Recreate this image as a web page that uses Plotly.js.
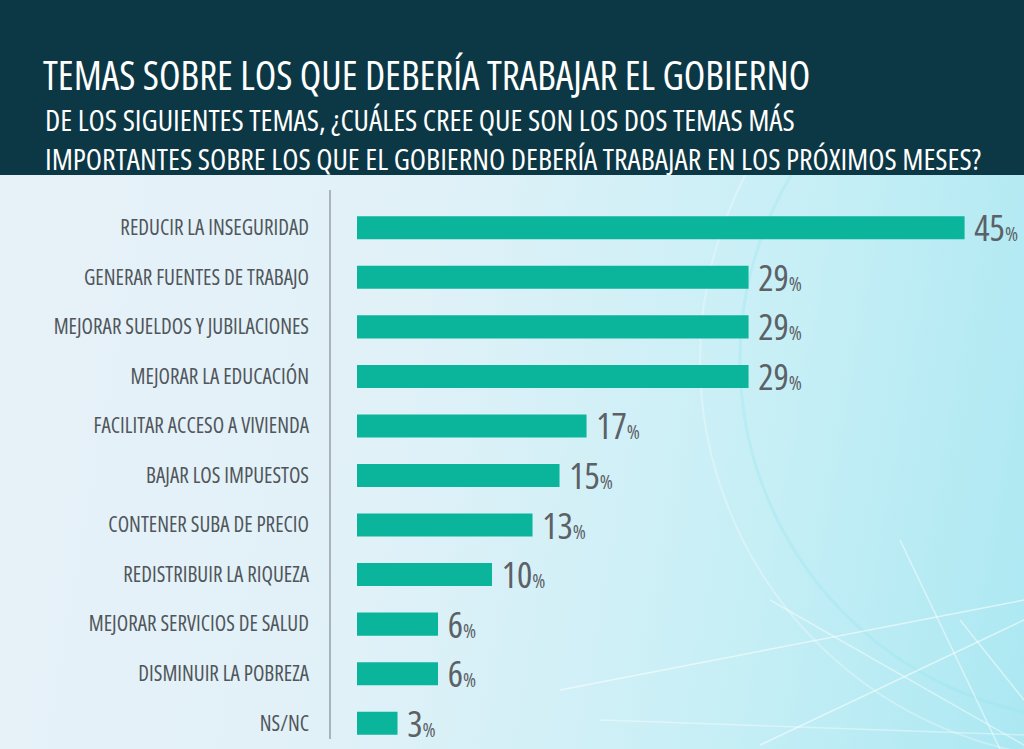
<!DOCTYPE html>
<html>
<head>
<meta charset="utf-8">
<script src="https://cdn.plot.ly/plotly-3.0.1.min.js"></script>
<style>
html,body{margin:0;padding:0;}
#wrap{width:1024px;height:749px;background:linear-gradient(100deg,#e8f1f8 0%,#e1f1f8 40%,#c8eff6 72%,#ace8f2 100%);}
#chart{width:1024px;height:749px;}
svg text{font-stretch:75% !important;}
</style>
</head>
<body>
<div id="wrap"><div id="chart"></div></div>
<script>
const categories = [
  "REDUCIR LA INSEGURIDAD",
  "GENERAR FUENTES DE TRABAJO",
  "MEJORAR SUELDOS Y JUBILACIONES",
  "MEJORAR LA EDUCACIÓN",
  "FACILITAR ACCESO A VIVIENDA",
  "BAJAR LOS IMPUESTOS",
  "CONTENER SUBA DE PRECIO",
  "REDISTRIBUIR LA RIQUEZA",
  "MEJORAR SERVICIOS DE SALUD",
  "DISMINUIR LA POBREZA",
  "NS/NC"
];
const values = [45, 29, 29, 29, 17, 15, 13, 10, 6, 6, 3];

const titleText = "TEMAS SOBRE LOS QUE DEBERÍA TRABAJAR EL GOBIERNO";
const subtitleLine1 = "DE LOS SIGUIENTES TEMAS, ¿CUÁLES CREE QUE SON LOS DOS TEMAS MÁS";
const subtitleLine2 = "IMPORTANTES SOBRE LOS QUE EL GOBIERNO DEBERÍA TRABAJAR EN LOS PRÓXIMOS MESES?";

const FONT = '"Open Sans", "Roboto Condensed", sans-serif';

const trace = {
  type: 'bar',
  orientation: 'h',
  y: categories,
  x: values,
  marker: {color: '#0bb59b'},
  texttemplate: ' %{x}<span style="font-size:20px">%</span>',
  textposition: 'outside',
  constraintext: 'none',
  cliponaxis: false,
  textfont: {family: FONT, size: 36, color: '#5b6166'},
  hoverinfo: 'skip'
};

// helpers: pixel -> paper coords for decoration shapes
const PX = p => (p - 330) / 694;
const PY = p => (748 - p) / 545;
const deco = (x0, y0, x1, y1, op) => ({
  type: 'line', xref: 'paper', yref: 'paper', layer: 'below',
  x0: PX(x0), y0: PY(y0), x1: PX(x1), y1: PY(y1),
  line: {color: 'rgba(255,255,255,' + op + ')', width: 1.5}
});

const layout = {
  width: 1024, height: 749,
  paper_bgcolor: 'rgba(0,0,0,0)',
  plot_bgcolor: 'rgba(0,0,0,0)',
  margin: {l: 330, r: 0, t: 203, b: 1},
  bargap: 0.535,
  showlegend: false,
  font: {family: FONT},
  title: {
    text: titleText,
    font: {family: FONT, size: 39.5, color: '#ffffff'},
    x: 43/1024, xref: 'container', xanchor: 'left',
    y: 1 - 76/749, yref: 'container', yanchor: 'middle'
  },
  xaxis: {
    range: [-2, 49.4], visible: false, fixedrange: true
  },
  yaxis: {
    autorange: 'reversed',
    showline: false, showgrid: false, zeroline: false,
    ticks: '', ticklabelstandoff: 20,
    tickfont: {family: FONT, size: 21, color: '#50565b'},
    fixedrange: true
  },
  shapes: [
    {type: 'circle', xref: 'paper', yref: 'paper', layer: 'below',
     x0: PX(700), x1: PX(1500), y0: PY(760), y1: PY(-40),
     line: {color: 'rgba(255,255,255,0.3)', width: 2}},
    {type: 'circle', xref: 'paper', yref: 'paper', layer: 'below',
     x0: PX(740), x1: PX(1460), y0: PY(720), y1: PY(0),
     line: {color: 'rgba(150,230,240,0.3)', width: 3}},
    deco(560, 690, 1024, 600, 0.55),
    deco(760, 745, 1024, 620, 0.55),
    deco(900, 540, 1000, 749, 0.5),
    deco(960, 620, 1024, 700, 0.5),
    deco(770, 600, 1024, 745, 0.45),
    deco(600, 720, 1024, 735, 0.4),
    {type: 'rect', xref: 'paper', yref: 'paper', layer: 'below',
     x0: -330/694, x1: 1, y0: (749-1-175)/545, y1: 750/545,
     fillcolor: '#0c3845', line: {width: 0}},
    {type: 'line', xref: 'paper', yref: 'paper',
     x0: 0, x1: 0, y0: PY(739), y1: PY(190),
     line: {color: '#a9b4ba', width: 2}}
  ],
  annotations: [
    {text: subtitleLine1, xref: 'paper', yref: 'paper', x: PX(43), y: PY(119),
     xanchor: 'left', yanchor: 'middle', showarrow: false,
     font: {family: FONT, size: 29.8, color: '#ffffff'}},
    {text: subtitleLine2, xref: 'paper', yref: 'paper', x: PX(43), y: PY(158),
     xanchor: 'left', yanchor: 'middle', showarrow: false,
     font: {family: FONT, size: 29.8, color: '#ffffff'}}
  ]
};

Plotly.newPlot('chart', [trace], layout, {displayModeBar: false, staticPlot: true});
</script>
</body>
</html>
